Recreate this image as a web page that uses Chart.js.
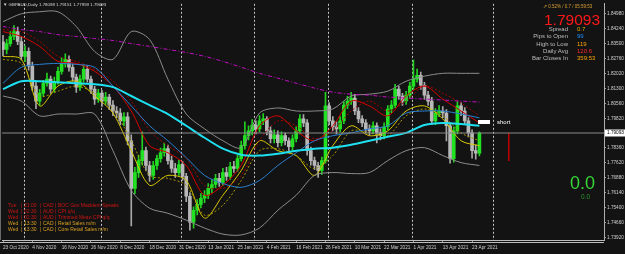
<!DOCTYPE html>
<html><head><meta charset="utf-8">
<script src="https://cdn.jsdelivr.net/npm/chart.js@4.4.0/dist/chart.umd.min.js"></script>
<style>
html,body{margin:0;padding:0;background:#131313;}
#wrap{position:relative;width:625px;height:254px;overflow:hidden;font-family:"Liberation Sans",Arial,sans-serif;}
canvas{position:absolute;left:0;top:0;}
.t{position:absolute;white-space:nowrap;line-height:1;}
</style></head><body>
<div id="wrap"><canvas id="c" width="625" height="254"></canvas></div>
<script>
// ---------- data ----------
const opens = [1.8360,1.8322,1.8351,1.8386,1.8410,1.8361,1.8288,1.8312,1.8239,1.8141,
1.8067,1.8106,1.8155,1.8175,1.8126,1.8165,1.8214,1.8253,1.8273,1.8234,
1.8185,1.8136,1.8175,1.8224,1.8175,1.8126,1.8077,1.8106,1.8067,1.8087,
1.8047,1.8018,1.8008,1.7969,1.7989,1.7871,1.7636,1.7714,1.7773,1.7822,
1.7749,1.7700,1.7749,1.7783,1.7812,1.7832,1.7773,1.7734,1.7714,1.7753,
1.7695,1.7597,1.7469,1.7528,1.7557,1.7587,1.7602,1.7636,1.7655,1.7685,
1.7665,1.7714,1.7695,1.7744,1.7734,1.7783,1.7847,1.7896,1.7920,1.7949,
1.7930,1.7969,1.7979,1.7920,1.7881,1.7900,1.7861,1.7896,1.7871,1.7842,
1.7881,1.7920,1.7979,1.7959,1.7822,1.7773,1.7749,1.7724,1.7773,1.8043,
1.7969,1.7940,1.7930,1.7969,1.8047,1.8067,1.8082,1.8018,1.7979,1.7959,
1.7930,1.7920,1.7945,1.7910,1.7896,1.7940,1.8028,1.8047,1.8126,1.8092,
1.8067,1.8096,1.8141,1.8175,1.8194,1.8145,1.8096,1.8067,1.7969,1.8008,
1.8018,1.8008,1.7945,1.7783,1.7920,1.8043,1.8018,1.7969,1.7910,1.7822,
1.78098];
const highs = [1.8392,1.8372,1.8410,1.8440,1.8432,1.8385,1.8340,1.8330,1.8260,1.8160,
1.8125,1.8170,1.8205,1.8190,1.8185,1.8235,1.8280,1.8300,1.8290,1.8250,
1.8200,1.8195,1.8245,1.8240,1.8190,1.8140,1.8125,1.8120,1.8110,1.8100,
1.8070,1.8040,1.8030,1.8010,1.8010,1.7900,1.7740,1.7800,1.7915,1.7840,
1.7770,1.7770,1.7800,1.7835,1.7860,1.7850,1.7795,1.7760,1.7775,1.7770,
1.7710,1.7615,1.7545,1.7580,1.7610,1.7625,1.7660,1.7680,1.7705,1.7710,
1.7735,1.7740,1.7765,1.7770,1.7800,1.7870,1.7965,1.7945,1.7975,1.7970,
1.7995,1.8005,1.7990,1.7940,1.7925,1.7920,1.7915,1.7910,1.7885,1.7900,
1.7940,1.8000,1.8000,1.7975,1.7840,1.7790,1.7765,1.7790,1.8110,1.8060,
1.7990,1.7965,1.7990,1.8065,1.8090,1.8110,1.8100,1.8035,1.7995,1.7975,
1.7950,1.7965,1.7960,1.7930,1.7960,1.8045,1.8070,1.8150,1.8140,1.8105,
1.8115,1.8160,1.8270,1.8225,1.8210,1.8160,1.8115,1.8085,1.8030,1.8045,
1.8040,1.8025,1.7960,1.7940,1.8065,1.8060,1.8035,1.7985,1.7925,1.7850,
1.79151];
const lows = [1.8290,1.8300,1.8338,1.8370,1.8345,1.8270,1.8262,1.8220,1.8120,1.8030,
1.8045,1.8090,1.8140,1.8105,1.8110,1.8150,1.8200,1.8235,1.8215,1.8165,
1.8110,1.8120,1.8160,1.8160,1.8105,1.8050,1.8060,1.8040,1.8050,1.8025,
1.7995,1.7985,1.7950,1.7945,1.7850,1.7450,1.7610,1.7690,1.7750,1.7725,
1.7670,1.7680,1.7730,1.7765,1.7795,1.7755,1.7715,1.7690,1.7700,1.7675,
1.7570,1.7430,1.7440,1.7505,1.7540,1.7565,1.7585,1.7615,1.7640,1.7645,
1.7650,1.7675,1.7680,1.7715,1.7720,1.7770,1.7830,1.7875,1.7900,1.7905,
1.7915,1.7950,1.7900,1.7860,1.7860,1.7840,1.7845,1.7850,1.7820,1.7825,
1.7865,1.7905,1.7940,1.7800,1.7750,1.7730,1.7690,1.7705,1.7760,1.7950,
1.7920,1.7905,1.7915,1.7955,1.8030,1.8050,1.8000,1.7960,1.7940,1.7910,
1.7900,1.7905,1.7860,1.7875,1.7880,1.7925,1.8010,1.8035,1.8075,1.8045,
1.8050,1.8080,1.8125,1.8160,1.8125,1.8075,1.8045,1.7950,1.7950,1.7990,
1.7985,1.7870,1.7760,1.7765,1.7905,1.7995,1.7950,1.7890,1.7785,1.7780,
1.77959];
const closes = [1.8322,1.8351,1.8386,1.8410,1.8361,1.8288,1.8312,1.8239,1.8141,1.8067,
1.8106,1.8155,1.8175,1.8126,1.8165,1.8214,1.8253,1.8273,1.8234,1.8185,
1.8136,1.8175,1.8224,1.8175,1.8126,1.8077,1.8106,1.8067,1.8087,1.8047,
1.8018,1.8008,1.7969,1.7989,1.7871,1.7636,1.7714,1.7773,1.7822,1.7749,
1.7700,1.7749,1.7783,1.7812,1.7832,1.7773,1.7734,1.7714,1.7753,1.7695,
1.7597,1.7469,1.7528,1.7557,1.7587,1.7602,1.7636,1.7655,1.7685,1.7665,
1.7714,1.7695,1.7744,1.7734,1.7783,1.7847,1.7896,1.7920,1.7949,1.7930,
1.7969,1.7979,1.7920,1.7881,1.7900,1.7861,1.7896,1.7871,1.7842,1.7881,
1.7920,1.7979,1.7959,1.7822,1.7773,1.7749,1.7724,1.7773,1.8043,1.7969,
1.7940,1.7930,1.7969,1.8047,1.8067,1.8082,1.8018,1.7979,1.7959,1.7930,
1.7920,1.7945,1.7910,1.7896,1.7940,1.8028,1.8047,1.8126,1.8092,1.8067,
1.8096,1.8141,1.8175,1.8194,1.8145,1.8096,1.8067,1.7969,1.8008,1.8018,
1.8008,1.7945,1.7783,1.7920,1.8043,1.8018,1.7969,1.7910,1.7822,1.78098,
1.79093];

// indicator lines, sampled every 5 bars
const lineIdx = [0,5,10,15,20,25,30,35,40,45,50,55,60,65,70,75,80,85,90,95,100,105,110,115,120,125,130];
const maMagenta = [1.8435,1.8420,1.8410,1.8395,1.8386,1.8376,1.8366,1.8351,1.8337,1.8322,1.8307,1.8288,1.8263,1.8234,1.8204,1.8180,1.8155,1.8131,1.8111,1.8101,1.8096,1.8087,1.8082,1.8077,1.8072,1.8067,1.8062];
const maCyan = [1.8126,1.8165,1.8165,1.8160,1.8155,1.8150,1.8136,1.8092,1.8047,1.8003,1.7945,1.7886,1.7832,1.7802,1.7798,1.7807,1.7822,1.7832,1.7837,1.7851,1.7871,1.7891,1.7910,1.7949,1.7959,1.7954,1.7945];
const maBlue = [1.8155,1.8234,1.8248,1.8253,1.8248,1.8234,1.8141,1.8043,1.7945,1.7871,1.7788,1.7700,1.7660,1.7641,1.7675,1.7749,1.7812,1.7871,1.7896,1.7910,1.7930,1.7945,1.8008,1.8018,1.8018,1.8003,1.7984];
const maRed = [1.8410,1.8386,1.8337,1.8263,1.8253,1.8214,1.8141,1.8018,1.7847,1.7812,1.7749,1.7602,1.7651,1.7749,1.7945,1.7994,1.7920,1.7871,1.7945,1.8067,1.8043,1.7994,1.8092,1.8141,1.8077,1.8018,1.7959];
const maRedDash = [1.8420,1.8410,1.8361,1.8288,1.8263,1.8224,1.8165,1.8067,1.7920,1.7847,1.7783,1.7651,1.7636,1.7700,1.7871,1.7969,1.7945,1.7881,1.7920,1.8018,1.8067,1.8018,1.8067,1.8141,1.8106,1.8057,1.7994];
const maYellow = [1.8288,1.8273,1.8043,1.8141,1.8165,1.8092,1.8008,1.7822,1.7651,1.7700,1.7675,1.7489,1.7602,1.7724,1.7871,1.7822,1.7798,1.7700,1.7847,1.7945,1.7896,1.7920,1.8018,1.8043,1.7979,1.7871,1.7847];
const maYellowDash = [1.8273,1.8253,1.8092,1.8116,1.8141,1.8106,1.8028,1.7871,1.7700,1.7685,1.7651,1.7504,1.7553,1.7675,1.7822,1.7832,1.7798,1.7734,1.7798,1.7920,1.7910,1.7896,1.7994,1.8028,1.7994,1.7910,1.7871];
const bandUpper = [1.8459,1.8498,1.8508,1.8508,1.8435,1.8312,1.8273,1.8410,1.8371,1.8175,1.8003,1.7930,1.7871,1.7837,1.8008,1.8033,1.8018,1.8018,1.8028,1.8092,1.8101,1.8116,1.8165,1.8190,1.8204,1.8204,1.8204];
const bandLower = [1.8092,1.8067,1.7994,1.8003,1.8003,1.8003,1.7822,1.7626,1.7538,1.7513,1.7479,1.7440,1.7410,1.7406,1.7440,1.7528,1.7602,1.7700,1.7714,1.7709,1.7714,1.7773,1.7822,1.7837,1.7798,1.7763,1.7749];

const xTickIdx = [0,8,16,24,32,40,48,56,64,72,80,88,96,104,112,120,128];
const xTickLabels = ['23 Oct 2020','4 Nov 2020','16 Nov 2020','26 Nov 2020','8 Dec 2020','18 Dec 2020','31 Dec 2020','13 Jan 2021','25 Jan 2021','4 Feb 2021','16 Feb 2021','26 Feb 2021','10 Mar 2021','22 Mar 2021','1 Apr 2021','13 Apr 2021','23 Apr 2021'];
const monthStarts = [6,27,49,69,89,112,134];
const yTickVals = [1.84980,1.84240,1.83500,1.82760,1.82020,1.81300,1.80560,1.79820,1.78360,1.77620,1.76880,1.76140,1.75400,1.74660,1.73920];
const currentPrice = 1.79093;
const rangeMarker = {index: 138, from: 1.79093, to: 1.7771};

const header = '\u25BC GBPAUD,Daily  1.78098 1.79151 1.77959 1.79093';
const infoTop = '\u2197 0.52% / 0.7 / 05:59:53';
const infoLabels = ['Spread','Pips to Open','High to Low','Daily Avg','Bar Closes In'];
const infoValues = ['0.7','99','119','120.6','359:53'];
const infoColors = ['#e0b000','#1e90ff','#ffa500','#ff2a2a','#ffa500'];
const evDays = ['Tue','Wed','Wed','Wed','Wed'];
const evTimes = ['21:00','02:30','02:30','13:30','13:30'];
const evCcy = ['CAD','AUD','AUD','CAD','CAD'];
const evTitles = ['BOC Gov Macklem Speaks','CPI q/q','Trimmed Mean CPI q/q','Retail Sales m/m','Core Retail Sales m/m'];
const evColors = ['#d01414','#d01414','#d01414','#d9a020','#d9a020'];

// ---------- chart ----------
const yMax = 1.85472, yMin = 1.73810;
const xMin = -0.27, xMax = 164.0;
const bull = i => closes[i] >= opens[i];
const idx = closes.map((_, i) => i);
const series = vals => lineIdx.map((x, k) => ({x, y: vals[k]}));
const lineDs = (vals, color, width, dash) => ({
  type: 'line', data: series(vals), borderColor: color, borderWidth: width,
  borderDash: dash || [], pointRadius: 0, tension: 0.3, order: 1, fill: false
});

const frame = {
  id: 'frame',
  beforeDraw(chart) {
    const c = chart.ctx; c.save(); c.fillStyle = '#131313'; c.fillRect(0, 0, chart.width, chart.height); c.restore();
  },
  afterDraw(chart) {
    const {ctx, chartArea: a, scales: {y}} = chart;
    ctx.save();
    ctx.strokeStyle = '#bdbdbd'; ctx.lineWidth = 1;
    ctx.beginPath(); ctx.moveTo(0, a.bottom + 2.5); ctx.lineTo(a.right, a.bottom + 2.5); ctx.stroke();
    ctx.strokeStyle = '#6a6a6a';
    ctx.beginPath(); ctx.moveTo(0.5, 0); ctx.lineTo(0.5, a.bottom); ctx.stroke();
    const py = y.getPixelForValue(currentPrice);
    ctx.fillStyle = '#ffffff'; ctx.fillRect(a.right + 1, Math.round(py) - 3.5, 20, 7);
    ctx.fillStyle = '#000000'; ctx.font = '4.7px "Liberation Sans", Arial'; ctx.textBaseline = 'middle';
    ctx.fillText(currentPrice.toFixed(5), a.right + 3, Math.round(py));
    ctx.restore();
  }
};

new Chart(document.getElementById('c'), {
  type: 'bar',
  data: {
    datasets: [
      {type: 'line', data: [{x: xMin, y: currentPrice}, {x: xMax, y: currentPrice}], borderColor: '#8a8a8a', borderWidth: 1, pointRadius: 0, order: 0},
      {type: 'line', data: [{x: rangeMarker.index, y: rangeMarker.from}, {x: rangeMarker.index, y: rangeMarker.to}], borderColor: '#c00000', borderWidth: 1, pointRadius: 0, order: 0},
      lineDs(maMagenta, '#c010c0', 1, [4, 2, 1, 2]),
      lineDs(bandUpper, '#8c8c8c', 1),
      lineDs(bandLower, '#8c8c8c', 1),
      lineDs(maCyan, '#1ee0f0', 2),
      lineDs(maBlue, '#2a7fd0', 1),
      lineDs(maRedDash, '#a80000', 1, [2, 2]),
      lineDs(maRed, '#d80000', 1),
      lineDs(maYellowDash, '#a89800', 1, [2, 2]),
      lineDs(maYellow, '#d8c800', 1),
      {type: 'bar', data: idx.map(i => ({x: i, y: [opens[i], closes[i]]})), grouped: false, barThickness: 3, minBarLength: 1,
        backgroundColor: c => bull(c.dataIndex) ? '#22e022' : '#b8b8b8', borderWidth: 0, order: 3},
      {type: 'bar', data: idx.map(i => ({x: i, y: [lows[i], highs[i]]})), grouped: false, barThickness: 1,
        backgroundColor: c => bull(c.dataIndex) ? '#22d022' : '#a8a8a8', borderWidth: 0, order: 4}
    ]
  },
  options: {
    responsive: false, animation: false, events: [],
    layout: {padding: {top: 2, left: 1, right: 0, bottom: 0}},
    plugins: {legend: {display: false}, tooltip: {enabled: false}},
    scales: {
      x: {type: 'linear', min: xMin, max: xMax, offset: false, position: 'bottom', weight: 1,
        afterBuildTicks: s => { s.ticks = xTickIdx.map(v => ({value: v})); },
        afterFit: s => { s.height = 14; },
        ticks: {autoSkip: false, maxRotation: 0, align: 'start', padding: 3, color: '#d0d0d0',
          font: {size: 4.7, family: '"Liberation Sans", Arial'}, callback: v => xTickLabels[xTickIdx.indexOf(v)]},
        grid: {drawOnChartArea: false, drawTicks: true, tickLength: 2, color: '#9a9a9a', offset: false},
        border: {display: true, color: '#bdbdbd'}},
      xm: {type: 'linear', min: xMin, max: xMax, offset: false, position: 'bottom', weight: 2,
        afterBuildTicks: s => { s.ticks = monthStarts.map(v => ({value: v - 0.25})); },
        afterFit: s => { s.height = 0; },
        ticks: {display: false}, grid: {color: 'rgba(230,230,230,0.85)', drawTicks: false, lineWidth: 1, offset: false},
        border: {display: false, dash: [2, 2]}},
      y: {type: 'linear', position: 'right', min: yMin, max: yMax,
        afterBuildTicks: s => { s.ticks = yTickVals.map(v => ({value: v})); },
        afterFit: s => { s.width = 21; },
        ticks: {color: '#d0d0d0', padding: 1, font: {size: 4.7, family: '"Liberation Sans", Arial'}, callback: v => v.toFixed(5)},
        grid: {drawOnChartArea: false, drawTicks: true, tickLength: 2, color: '#9a9a9a'},
        border: {display: true, color: '#b0b0b0'}}
    }
  },
  plugins: [frame]
});

// ---------- text overlays ----------
const wrap = document.getElementById('wrap');
function txt(s, x, y, size, color, extra) {
  const d = document.createElement('div'); d.className = 't'; d.textContent = s;
  d.style.left = x + 'px'; d.style.top = y + 'px'; d.style.fontSize = size + 'px'; d.style.color = color;
  if (extra) Object.assign(d.style, extra);
  wrap.appendChild(d); return d;
}
txt(header, 3, 2.5, 4.4, '#d8d8d8');
txt(infoTop, 543, 5, 4.5, '#d8a030');
txt(currentPrice.toFixed(5), 544, 12, 15.5, '#ff1818');
infoLabels.forEach((s, k) => {
  txt(s, 0, 26 + k * 7.3, 6, '#bdbdbd', {left: 'auto', right: (625 - 568) + 'px', textAlign: 'right'});
  txt(infoValues[k], 577, 26 + k * 7.3, 6, infoColors[k]);
});
evDays.forEach((d, k) => {
  const y = 202.5 + k * 6.05;
  txt(d, 8, y, 5, evColors[k]);
  txt('|', 21, y, 5, evColors[k]);
  txt(evTimes[k], 24, y, 5, evColors[k]);
  txt('|', 40, y, 5, evColors[k]);
  txt(evCcy[k], 43, y, 5, evColors[k]);
  txt('|', 55, y, 5, evColors[k]);
  txt(evTitles[k], 58, y, 5, evColors[k]);
});
const sm = document.createElement('div');
Object.assign(sm.style, {position: 'absolute', left: '478px', top: '119.5px', width: '12px', height: '4.5px', background: '#ffffff'});
wrap.appendChild(sm);
txt('short', 497, 118.5, 6, '#ffffff');
txt('0.0', 570, 174, 18, '#36d436');
txt('0.0', 581, 194, 6.5, '#2c9a2c');
</script>
</body></html>
